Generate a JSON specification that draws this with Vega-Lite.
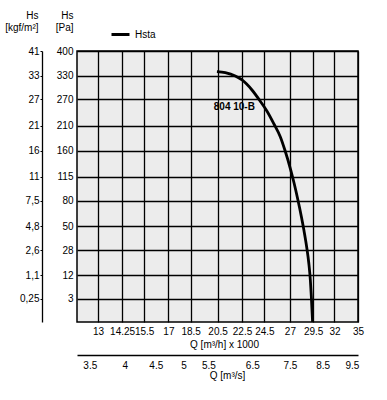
{
  "$schema": "https://vega.github.io/schema/vega-lite/v6.json",
  "width": 281,
  "height": 271,
  "autosize": {"type": "none"},
  "padding": {"left": 77, "top": 51, "right": 29, "bottom": 78},
  "background": "white",
  "config": {
    "font": "Liberation Sans",
    "view": {"fill": "#ececec", "stroke": "black", "strokeWidth": 1.5},
    "axis": {
      "labelFont": "Liberation Sans",
      "labelFontSize": 10,
      "labelColor": "black",
      "titleFont": "Liberation Sans",
      "titleFontSize": 10,
      "titleFontWeight": "normal",
      "titleColor": "black",
      "gridColor": "black",
      "gridOpacity": 1,
      "gridWidth": 1.3,
      "domainColor": "black",
      "tickColor": "black",
      "labelOverlap": false,
      "labelFlush": false
    }
  },
  "layer": [
    {
      "data": {
        "values": [
          {"Q": 20.45, "Pa": 341.2},
          {"Q": 21.11, "Pa": 338.5},
          {"Q": 21.93, "Pa": 329.6},
          {"Q": 22.5, "Pa": 319.0},
          {"Q": 23.37, "Pa": 293.2},
          {"Q": 24.12, "Pa": 265.5},
          {"Q": 24.75, "Pa": 242.0},
          {"Q": 25.38, "Pa": 215.0},
          {"Q": 26.03, "Pa": 187.0},
          {"Q": 26.49, "Pa": 161.1},
          {"Q": 27.09, "Pa": 125.8},
          {"Q": 27.44, "Pa": 104.8},
          {"Q": 27.84, "Pa": 81.1},
          {"Q": 28.21, "Pa": 60.4},
          {"Q": 28.48, "Pa": 46.1},
          {"Q": 28.78, "Pa": 30.9},
          {"Q": 29.02, "Pa": 18.8},
          {"Q": 29.19, "Pa": 9.61},
          {"Q": 29.3, "Pa": 3.49},
          {"Q": 29.44, "Pa": 0}
        ]
      },
      "mark": {"type": "line", "strokeWidth": 2.8, "interpolate": "monotone", "clip": true},
      "encoding": {
        "x": {
          "field": "Q",
          "type": "quantitative",
          "scale": {"type": "log", "domain": [12, 35], "nice": false},
          "axis": {
            "values": [13, 14.25, 15.5, 17, 18.5, 20.5, 22.5, 24.5, 27, 29.5, 32, 35],
            "grid": true,
            "domain": false,
            "ticks": false,
            "labelExpr": "'' + datum.value",
            "labelPadding": 4,
            "title": "Q [m³/h] x 1000",
            "titleX": 147,
            "titlePadding": 3
          }
        },
        "y": {
          "field": "Pa",
          "type": "quantitative",
          "scale": {"type": "sqrt", "domain": [0, 400], "nice": false, "zero": true},
          "axis": {
            "values": [3, 12, 28, 50, 80, 115, 160, 210, 270, 330, 400],
            "grid": true,
            "domain": false,
            "ticks": false,
            "labelPadding": 4,
            "title": ["Hs", "[Pa]"],
            "titleAngle": 0,
            "titleAlign": "right",
            "titleBaseline": "alphabetic",
            "titleX": -4,
            "titleY": -33,
            "titleLineHeight": 12
          }
        },
        "color": {
          "datum": "Hsta",
          "type": "nominal",
          "scale": {"range": ["black"]},
          "legend": {
            "orient": "none",
            "legendX": 33,
            "legendY": -27,
            "title": null,
            "symbolType": "stroke",
            "symbolSize": 324,
            "symbolStrokeWidth": 3,
            "symbolStrokeColor": "black",
            "labelFontSize": 10,
            "labelFont": "Liberation Sans",
            "labelColor": "black",
            "labelOffset": 4
          }
        }
      }
    },
    {
      "data": {"values": [{"Qs": 6.07, "Pa": 252, "label": "804 10-B"}]},
      "mark": {"type": "text", "fontWeight": "bold", "fontSize": 10, "font": "Liberation Sans", "color": "black"},
      "encoding": {
        "x": {
          "field": "Qs",
          "type": "quantitative",
          "scale": {"type": "log", "domain": [3.3333, 9.7222], "nice": false},
          "axis": {
            "orient": "bottom",
            "offset": 33,
            "values": [3.5, 4, 4.5, 5, 5.5, 6.5, 7.5, 8.5, 9.5],
            "grid": false,
            "domain": true,
            "domainWidth": 1.5,
            "ticks": false,
            "labelExpr": "'' + datum.value",
            "labelPadding": 5,
            "title": "Q [m³/s]",
            "titleX": 150,
            "titlePadding": 0
          }
        },
        "y": {
          "field": "Pa",
          "type": "quantitative",
          "scale": {"type": "sqrt", "domain": [0, 400], "nice": false, "zero": true},
          "axis": {
            "orient": "left",
            "offset": 35,
            "values": [3, 12, 28, 50, 80, 115, 160, 210, 270, 330, 400],
            "grid": false,
            "domain": true,
            "domainWidth": 1.3,
            "ticks": true,
            "tickSize": 2,
            "labelPadding": 1,
            "labelExpr": "datum.value==3?'0,25':datum.value==12?'1,1':datum.value==28?'2,6':datum.value==50?'4,8':datum.value==80?'7,5':datum.value==115?'11':datum.value==160?'16':datum.value==210?'21':datum.value==270?'27':datum.value==330?'33':'41'",
            "title": ["Hs", "[kgf/m²]"],
            "titleAngle": 0,
            "titleAlign": "right",
            "titleBaseline": "alphabetic",
            "titleX": -4,
            "titleY": -33,
            "titleLineHeight": 12
          }
        },
        "text": {"field": "label"}
      }
    }
  ],
  "resolve": {
    "scale": {"x": "independent", "y": "independent", "color": "independent"},
    "axis": {"x": "independent", "y": "independent"}
  }
}
